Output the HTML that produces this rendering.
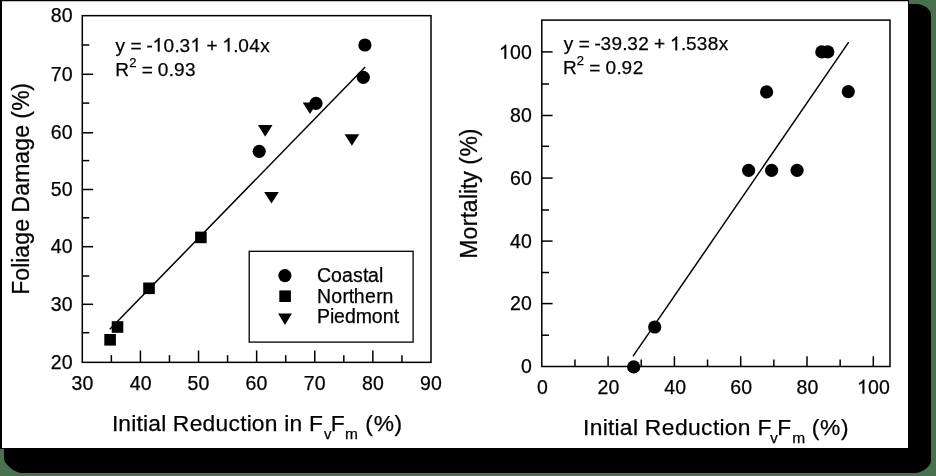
<!DOCTYPE html>
<html><head><meta charset="utf-8"><style>
html,body{margin:0;padding:0;width:936px;height:476px;overflow:hidden;background:#48714e;}
svg{display:block;will-change:transform;}
text{font-family:"Liberation Sans",sans-serif;fill:#000;stroke:#000;stroke-width:0.25px;}
.g1{fill:#000;stroke:#000;stroke-width:0.3px;vector-effect:non-scaling-stroke;}
</style></head><body>
<svg width="936" height="476" viewBox="0 0 936 476">
<rect x="0" y="0" width="936" height="476" fill="#48714e"/>
<path d="M4 4 L917 4 C923 4 931 9 931 15 L931 460.5 C931 467 921 473 915 473 L22.5 473 C15 473 4 464 4 458.4 Z" fill="#000"/>
<rect x="0" y="0" width="909" height="449" fill="#000"/>
<rect x="2" y="1" width="906" height="447" fill="#fff"/>
<rect x="2" y="1" width="906" height="1" fill="#c0c0c0"/>
<rect x="82.3" y="15.67" width="348.70" height="346.68" fill="none" stroke="#000" stroke-width="1.5"/>
<line x1="111.36" y1="362.35" x2="111.36" y2="355.15000000000003" stroke="#000" stroke-width="1.5"/>
<line x1="140.42" y1="362.35" x2="140.42" y2="350.45000000000005" stroke="#000" stroke-width="1.5"/>
<line x1="169.47" y1="362.35" x2="169.47" y2="355.15000000000003" stroke="#000" stroke-width="1.5"/>
<line x1="198.53" y1="362.35" x2="198.53" y2="350.45000000000005" stroke="#000" stroke-width="1.5"/>
<line x1="227.59" y1="362.35" x2="227.59" y2="355.15000000000003" stroke="#000" stroke-width="1.5"/>
<line x1="256.65" y1="362.35" x2="256.65" y2="350.45000000000005" stroke="#000" stroke-width="1.5"/>
<line x1="285.71" y1="362.35" x2="285.71" y2="355.15000000000003" stroke="#000" stroke-width="1.5"/>
<line x1="314.77" y1="362.35" x2="314.77" y2="350.45000000000005" stroke="#000" stroke-width="1.5"/>
<line x1="343.82" y1="362.35" x2="343.82" y2="355.15000000000003" stroke="#000" stroke-width="1.5"/>
<line x1="372.88" y1="362.35" x2="372.88" y2="350.45000000000005" stroke="#000" stroke-width="1.5"/>
<line x1="401.94" y1="362.35" x2="401.94" y2="355.15000000000003" stroke="#000" stroke-width="1.5"/>
<line x1="82.3" y1="332.70" x2="89.3" y2="332.70" stroke="#000" stroke-width="1.5"/>
<line x1="82.3" y1="304.30" x2="93.1" y2="304.30" stroke="#000" stroke-width="1.5"/>
<line x1="82.3" y1="276.00" x2="89.3" y2="276.00" stroke="#000" stroke-width="1.5"/>
<line x1="82.3" y1="246.70" x2="93.1" y2="246.70" stroke="#000" stroke-width="1.5"/>
<line x1="82.3" y1="217.80" x2="89.3" y2="217.80" stroke="#000" stroke-width="1.5"/>
<line x1="82.3" y1="189.50" x2="93.1" y2="189.50" stroke="#000" stroke-width="1.5"/>
<line x1="82.3" y1="160.60" x2="89.3" y2="160.60" stroke="#000" stroke-width="1.5"/>
<line x1="82.3" y1="132.80" x2="93.1" y2="132.80" stroke="#000" stroke-width="1.5"/>
<line x1="82.3" y1="103.10" x2="89.3" y2="103.10" stroke="#000" stroke-width="1.5"/>
<line x1="82.3" y1="74.30" x2="93.1" y2="74.30" stroke="#000" stroke-width="1.5"/>
<line x1="82.3" y1="45.00" x2="89.3" y2="45.00" stroke="#000" stroke-width="1.5"/>
<text x="50.82 61.82" y="368.95" font-size="19.5">20</text>
<text x="50.82 61.82" y="310.90" font-size="19.5">30</text>
<text x="50.82 61.82" y="253.30" font-size="19.5">40</text>
<text x="50.82 61.82" y="196.10" font-size="19.5">50</text>
<text x="50.82 61.82" y="139.40" font-size="19.5">60</text>
<text x="50.82 61.82" y="80.90" font-size="19.5">70</text>
<text x="50.82 61.82" y="22.27" font-size="19.5">80</text>
<text x="71.39 82.39" y="389.60" font-size="19.5">30</text>
<text x="129.65 140.65" y="389.60" font-size="19.5">40</text>
<text x="187.60 198.60" y="389.60" font-size="19.5">50</text>
<text x="245.61 256.61" y="389.60" font-size="19.5">60</text>
<text x="303.73 314.73" y="389.60" font-size="19.5">70</text>
<text x="361.92 372.92" y="389.60" font-size="19.5">80</text>
<text x="420.00 431.00" y="389.60" font-size="19.5">90</text>
<rect x="541.8" y="20.1" width="348.20" height="346.40" fill="none" stroke="#000" stroke-width="1.5"/>
<line x1="574.95" y1="366.5" x2="574.95" y2="359.5" stroke="#000" stroke-width="1.5"/>
<line x1="608.10" y1="366.5" x2="608.10" y2="356.2" stroke="#000" stroke-width="1.5"/>
<line x1="641.25" y1="366.5" x2="641.25" y2="359.5" stroke="#000" stroke-width="1.5"/>
<line x1="674.40" y1="366.5" x2="674.40" y2="356.2" stroke="#000" stroke-width="1.5"/>
<line x1="707.55" y1="366.5" x2="707.55" y2="359.5" stroke="#000" stroke-width="1.5"/>
<line x1="740.70" y1="366.5" x2="740.70" y2="356.2" stroke="#000" stroke-width="1.5"/>
<line x1="773.85" y1="366.5" x2="773.85" y2="359.5" stroke="#000" stroke-width="1.5"/>
<line x1="807.00" y1="366.5" x2="807.00" y2="356.2" stroke="#000" stroke-width="1.5"/>
<line x1="840.15" y1="366.5" x2="840.15" y2="359.5" stroke="#000" stroke-width="1.5"/>
<line x1="873.30" y1="366.5" x2="873.30" y2="356.2" stroke="#000" stroke-width="1.5"/>
<line x1="541.8" y1="335.20" x2="549.0" y2="335.20" stroke="#000" stroke-width="1.5"/>
<line x1="541.8" y1="303.60" x2="552.5999999999999" y2="303.60" stroke="#000" stroke-width="1.5"/>
<line x1="541.8" y1="272.50" x2="549.0" y2="272.50" stroke="#000" stroke-width="1.5"/>
<line x1="541.8" y1="241.10" x2="552.5999999999999" y2="241.10" stroke="#000" stroke-width="1.5"/>
<line x1="541.8" y1="210.00" x2="549.0" y2="210.00" stroke="#000" stroke-width="1.5"/>
<line x1="541.8" y1="178.10" x2="552.5999999999999" y2="178.10" stroke="#000" stroke-width="1.5"/>
<line x1="541.8" y1="146.30" x2="549.0" y2="146.30" stroke="#000" stroke-width="1.5"/>
<line x1="541.8" y1="115.50" x2="552.5999999999999" y2="115.50" stroke="#000" stroke-width="1.5"/>
<line x1="541.8" y1="84.00" x2="549.0" y2="84.00" stroke="#000" stroke-width="1.5"/>
<line x1="541.8" y1="51.90" x2="552.5999999999999" y2="51.90" stroke="#000" stroke-width="1.5"/>
<text x="520.92" y="373.30" font-size="19.5">0</text>
<text x="509.92 520.92" y="310.40" font-size="19.5">20</text>
<text x="509.92 520.92" y="247.90" font-size="19.5">40</text>
<text x="509.92 520.92" y="184.90" font-size="19.5">60</text>
<text x="509.92 520.92" y="122.30" font-size="19.5">80</text>
<text x="498.92 509.92 520.92" y="58.70" font-size="19.5">&#160;00</text><path class="g1" transform="translate(498.92,58.70) scale(0.00952,-0.00952)" d="M763 0L583 0L583 1147C540 1106 483 1064 413 1023C343 982 280 951 223 930L223 1104C324 1151 412 1209 487 1276C562 1343 615 1407 646 1466L763 1466Z"/>
<text x="536.88" y="393.60" font-size="19.5">0</text>
<text x="597.57 608.57" y="393.60" font-size="19.5">20</text>
<text x="664.13 675.13" y="393.60" font-size="19.5">40</text>
<text x="730.16 741.16" y="393.60" font-size="19.5">60</text>
<text x="796.53 807.53" y="393.60" font-size="19.5">80</text>
<text x="857.02 868.02 879.02" y="393.60" font-size="19.5">&#160;00</text><path class="g1" transform="translate(857.02,393.60) scale(0.00952,-0.00952)" d="M763 0L583 0L583 1147C540 1106 483 1064 413 1023C343 982 280 951 223 930L223 1104C324 1151 412 1209 487 1276C562 1343 615 1407 646 1466L763 1466Z"/>
<line x1="109.8" y1="329.3" x2="365.2" y2="67.0" stroke="#000" stroke-width="1.5"/>
<circle cx="364.9" cy="45.0" r="6.6"/>
<circle cx="363.3" cy="77.3" r="6.6"/>
<circle cx="316.0" cy="103.4" r="6.6"/>
<circle cx="259.2" cy="151.3" r="6.6"/>
<rect x="143.20" y="282.50" width="11.6" height="11.6"/>
<rect x="111.70" y="321.20" width="11.6" height="11.6"/>
<rect x="104.30" y="334.00" width="11.6" height="11.6"/>
<rect x="195.10" y="231.60" width="11.6" height="11.6"/>
<polygon points="302.70,102.4 317.30,102.4 310.0,114.00"/>
<polygon points="257.90,125.1 272.50,125.1 265.2,136.70"/>
<polygon points="264.20,191.9 278.80,191.9 271.5,203.50"/>
<polygon points="344.60,134.2 359.20,134.2 351.9,145.80"/>
<rect x="249.2" y="251.3" width="163.9" height="90.8" fill="none" stroke="#000" stroke-width="1.3"/>
<circle cx="284.9" cy="275.6" r="6.6"/>
<rect x="279.30" y="290.40" width="11.6" height="11.6"/>
<polygon points="278.10,313.4 291.90,313.4 285.0,324.90"/>
<text x="317.01 331.01 342.01 353.01 363.01 368.01 379.01" y="282.00" font-size="19.5">Coastal</text>
<text x="316.96 331.30 342.56 348.70 353.82 365.09 376.35 382.49" y="302.50" font-size="19.5">Northern</text>
<text x="317.01 329.96 333.95 344.91 355.87 371.82 382.78 393.74" y="323.40" font-size="19.5">Piedmont</text>
<text x="115.55 125.54 130.53 141.51 146.50 152.49 163.48 174.46 179.45 190.43 201.41 206.41 217.39 222.38 233.36 238.35 249.34 260.32" y="51.50" font-size="19">y&#160;=&#160;-&#160;0.3&#160;&#160;+&#160;&#160;.04x</text><path class="g1" transform="translate(152.49,51.50) scale(0.00928,-0.00928)" d="M763 0L583 0L583 1147C540 1106 483 1064 413 1023C343 982 280 951 223 930L223 1104C324 1151 412 1209 487 1276C562 1343 615 1407 646 1466L763 1466Z"/><path class="g1" transform="translate(190.43,51.50) scale(0.00928,-0.00928)" d="M763 0L583 0L583 1147C540 1106 483 1064 413 1023C343 982 280 951 223 930L223 1104C324 1151 412 1209 487 1276C562 1343 615 1407 646 1466L763 1466Z"/><path class="g1" transform="translate(222.38,51.50) scale(0.00928,-0.00928)" d="M763 0L583 0L583 1147C540 1106 483 1064 413 1023C343 982 280 951 223 930L223 1104C324 1151 412 1209 487 1276C562 1343 615 1407 646 1466L763 1466Z"/>
<text x="115.34" y="75.60" font-size="19">R</text>
<text x="129.15" y="66.60" font-size="13">2</text>
<text x="141.67 152.75 157.79 168.87 173.91 184.99" y="75.60" font-size="19">=&#160;0.93</text>
<line x1="632.9" y1="356.4" x2="848.7" y2="42.1" stroke="#000" stroke-width="1.5"/>
<circle cx="633.7" cy="366.9" r="6.6"/>
<circle cx="654.7" cy="327.0" r="6.6"/>
<circle cx="748.6" cy="170.3" r="6.6"/>
<circle cx="771.6" cy="170.3" r="6.6"/>
<circle cx="797.1" cy="170.3" r="6.6"/>
<circle cx="766.6" cy="91.9" r="6.6"/>
<circle cx="821.8" cy="51.9" r="6.6"/>
<circle cx="827.8" cy="51.9" r="6.6"/>
<circle cx="848.3" cy="91.6" r="6.6"/>
<text x="563.75 573.68 578.65 589.57 594.54 600.50 611.42 622.34 627.31 638.23 649.16 654.12 665.04 670.01 680.93 685.90 696.82 707.75 718.67" y="50.20" font-size="19">y&#160;=&#160;-39.32&#160;+&#160;&#160;.538x</text><path class="g1" transform="translate(670.01,50.20) scale(0.00928,-0.00928)" d="M763 0L583 0L583 1147C540 1106 483 1064 413 1023C343 982 280 951 223 930L223 1104C324 1151 412 1209 487 1276C562 1343 615 1407 646 1466L763 1466Z"/>
<text x="563.04" y="73.80" font-size="19">R</text>
<text x="576.85" y="64.80" font-size="13">2</text>
<text x="589.37 600.43 605.46 616.53 621.56 632.63" y="73.80" font-size="19">=&#160;0.92</text>
<g transform="translate(29.0,0) rotate(-90)"><text x="-294.79 -280.78 -267.78 -262.78 -257.78 -244.77 -231.77 -218.77 -212.77 -195.76 -182.76 -163.75 -150.75 -137.75 -124.74 -118.74 -110.74 -90.73" y="0.00" font-size="23">Foliage&#160;Damage&#160;(%)</text></g>
<g transform="translate(477.4,0) rotate(-90)"><text x="-258.71 -239.49 -226.34 -218.24 -212.18 -199.02 -193.97 -188.91 -182.84 -170.70 -164.63 -156.54 -136.31" y="0.00" font-size="23">Mortality&#160;(%)</text></g>
<text x="111.89 118.37 131.33 136.51 142.99 148.17 161.14 166.32 172.80 189.63 202.60 215.57 228.53 240.19 246.67 251.85 264.81 277.78 284.26 289.44 302.41 308.88" y="431.20" font-size="22.8">Initial&#160;Reduction&#160;in&#160;F</text>
<text x="324.05" y="438.90" font-size="15">v</text>
<text x="330.83" y="431.20" font-size="22.8">F</text>
<text x="344.97" y="438.90" font-size="15.5">m</text>
<text x="365.33 373.63 394.39" y="431.20" font-size="22.8">(%)</text>
<text x="583.12 589.67 602.79 608.03 614.58 619.82 632.94 638.18 644.74 661.77 674.89 688.01 701.12 712.92 719.47 724.71 737.83 750.95 757.50" y="435.10" font-size="22.8">Initial&#160;Reduction&#160;F</text>
<text x="770.25" y="442.80" font-size="15">v</text>
<text x="777.33" y="435.10" font-size="22.8">F</text>
<text x="792.17" y="442.80" font-size="15.5">m</text>
<text x="811.72 820.11 841.11" y="435.10" font-size="22.8">(%)</text>
</svg>
</body></html>
